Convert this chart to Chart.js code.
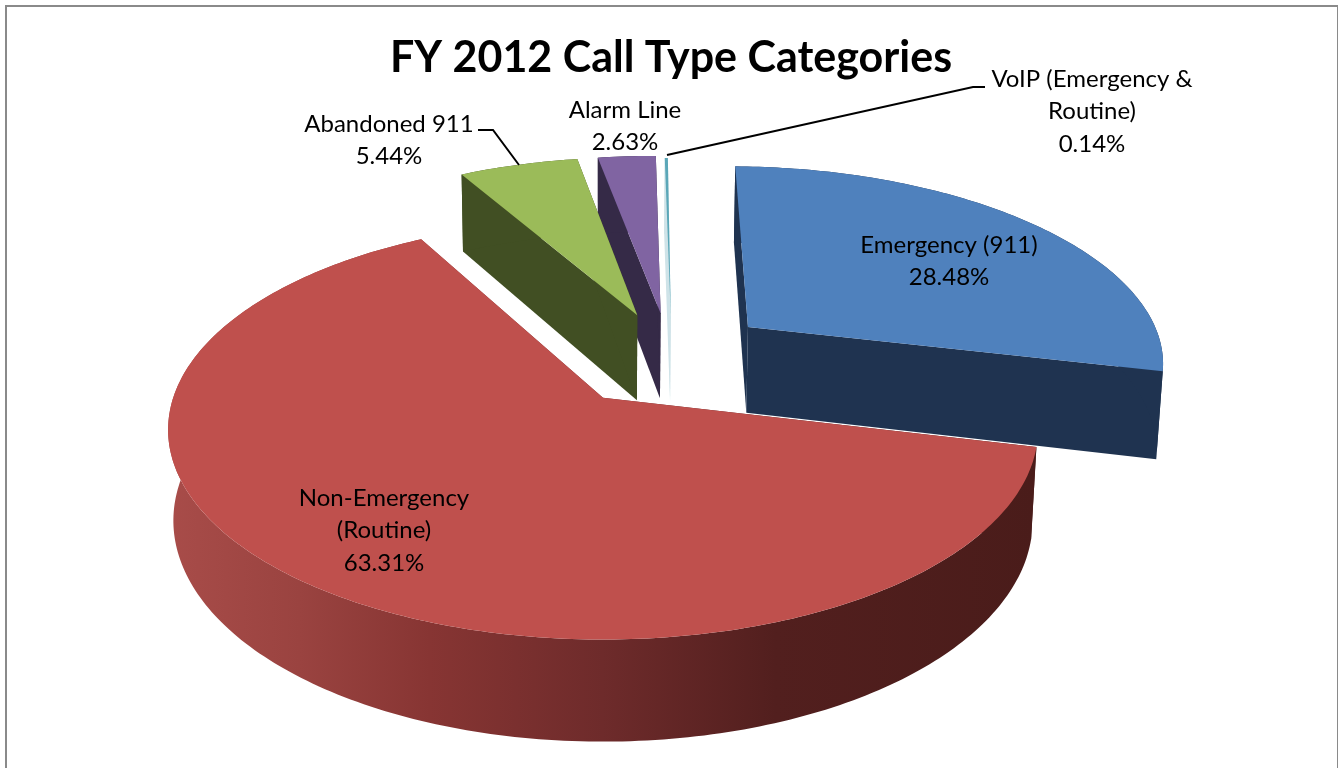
<!DOCTYPE html>
<html>
<head>
<meta charset="utf-8">
<title>FY 2012 Call Type Categories</title>
<style>
html, body { margin: 0; padding: 0; background: #fff; overflow: hidden; }
#frame { position: absolute; left: 5px; top: 5px; width: 1330px; height: 770px; border: 2px solid #8a8a8a; border-bottom: none; }
#myChart { position: absolute; left: 0; top: 0; }
</style>
<script src="https://cdn.jsdelivr.net/npm/chart.js@4/dist/chart.umd.min.js"></script>
</head>
<body>
<div id="frame"></div>
<canvas id="myChart" width="1338" height="768"></canvas>
<script>
var categories = ["Emergency (911)", "Non-Emergency (Routine)", "Abandoned 911", "Alarm Line", "VoIP (Emergency & Routine)"];
var shares = [28.48, 63.31, 5.44, 2.63, 0.14];
var labelRows = [["Emergency (911)"], ["Non-Emergency", "(Routine)"], ["Abandoned 911"], ["Alarm Line"], ["VoIP (Emergency &", "Routine)"]];
var topColors = ["#4f81bd", "#bf504d", "#9bbb59", "#8064a2", "#5ba7b8"];
var wallColors = ["#1f3350", null, "#414f23", "#352a47", "#cfe3e8"];

// tilt and perspective of the disc
var view = { shiftX: -68, ax: 1.368, by: 0.652, depth: 0.2885, p: 0.1525, q: 0.012 };
// how far each slice is pulled out, in radii
var pulled = [[0.356, 0.365], [0, 0], [0.085, 0.43], [0.143, 0.44], [0.168, 0.425]];
// painting order, back to front
var paintOrder = [4, 3, 2, 0, 1];
var labelSpots = [[949, 245], [384, 498], [389, 124], [625, 110], [1092, 79]];
var leaders = [[[478, 130], [493, 130], [519, 165]], [[985, 87], [973, 87], [667, 155]]];

function project(arc, X, Y, Z) {
    var k = arc.outerRadius;
    var w = 1 + view.p * Y + view.q * Z;
    return [arc.x + view.shiftX + view.ax * k * X / w, arc.y - (view.by * k * Y - view.depth * k * Z) / w];
}

function poly(ctx, pts, fill) {
    ctx.beginPath();
    pts.forEach(function (pt, i) { if (i) ctx.lineTo(pt[0], pt[1]); else ctx.moveTo(pt[0], pt[1]); });
    ctx.closePath();
    ctx.fillStyle = fill;
    ctx.fill();
}

function rimPoints(arc, off, Z) {
    var pts = [];
    var steps = Math.max(2, Math.ceil((arc.endAngle - arc.startAngle) * 60));
    for (var i = 0; i <= steps; i++) {
        var a = arc.startAngle + (arc.endAngle - arc.startAngle) * i / steps;
        pts.push(project(arc, off[0] + Math.cos(a), off[1] - Math.sin(a), Z));
    }
    return pts;
}

function redWall(ctx) {
    var g = ctx.createLinearGradient(170, 0, 1035, 0);
    g.addColorStop(0, "#a84c49");
    g.addColorStop(0.15, "#9a4340");
    g.addColorStop(0.3, "#873533");
    g.addColorStop(0.5, "#6e2b2b");
    g.addColorStop(0.7, "#521f1e");
    g.addColorStop(1, "#4a1c1a");
    return g;
}

var pie3d = {
    id: "pie3d",
    beforeDatasetDraw: function (chart, args) {
        var ctx = chart.ctx;
        var arcs = chart.getDatasetMeta(args.index).data;
        ctx.save();
        paintOrder.forEach(function (i) {
            var arc = arcs[i], off = pulled[i];
            var top = rimPoints(arc, off, 0), bot = rimPoints(arc, off, 1);
            var a0 = project(arc, off[0], off[1], 0), a1 = project(arc, off[0], off[1], 1);
            var wall = wallColors[i] || redWall(ctx);
            poly(ctx, [a0, top[0], bot[0], a1], wall);
            poly(ctx, [a0, top[top.length - 1], bot[bot.length - 1], a1], wall);
            poly(ctx, top.concat(bot.slice().reverse()), wall);
            poly(ctx, [a0].concat(top), topColors[i]);
        });
        ctx.restore();
        drawLabels(ctx);
        return false;
    }
};

function drawLabels(ctx) {
    ctx.save();
    ctx.strokeStyle = "#000";
    ctx.lineWidth = 2;
    leaders.forEach(function (line) {
        ctx.beginPath();
        line.forEach(function (pt, i) { if (i) ctx.lineTo(pt[0], pt[1]); else ctx.moveTo(pt[0], pt[1]); });
        ctx.stroke();
    });
    ctx.fillStyle = "#000";
    ctx.font = "24px Lato";
    ctx.textAlign = "center";
    ctx.textBaseline = "middle";
    labelRows.forEach(function (rows, i) {
        var lines = rows.concat([shares[i].toFixed(2) + "%"]);
        lines.forEach(function (txt, j) {
            ctx.fillText(txt, labelSpots[i][0], labelSpots[i][1] + j * 32.5);
        });
    });
    ctx.restore();
}

new Chart(document.getElementById("myChart"), {
    type: "pie",
    data: {
        labels: categories,
        datasets: [{ data: shares, backgroundColor: topColors, borderWidth: 0 }]
    },
    options: {
        responsive: false,
        animation: false,
        devicePixelRatio: 1,
        rotation: 0.9,
        layout: { padding: { left: 4, bottom: 56 } },
        plugins: {
            legend: { display: false },
            tooltip: { enabled: false },
            title: {
                display: true,
                text: "FY 2012 Call Type Categories",
                color: "#000",
                font: { family: "Lato", size: 43, weight: "bold" },
                padding: { top: 32, bottom: 0 }
            }
        }
    },
    plugins: [pie3d]
});
</script>
</body>
</html>
